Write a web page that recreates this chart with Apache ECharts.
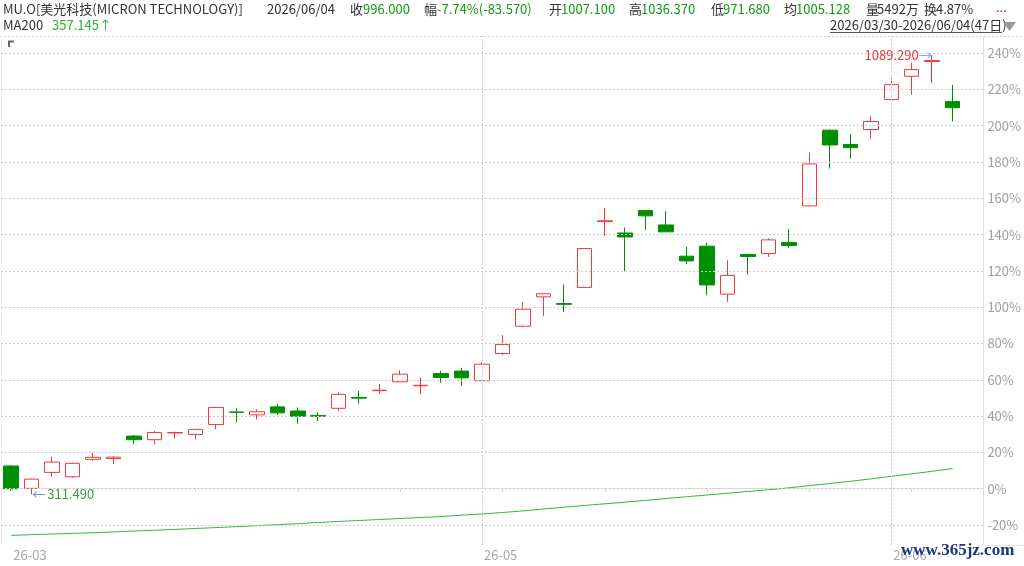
<!DOCTYPE html>
<html>
<head>
<meta charset="utf-8">
<script src="https://cdn.jsdelivr.net/npm/echarts@6/dist/echarts.min.js"></script>
<style>html,body{margin:0;padding:0;background:#fff;}#c{width:1024px;height:566px;}</style>
</head>
<body>
<div id="c"></div>
<script>
// ---- data ----
const dates = [
  '2026/03/30','2026/03/31',
  '2026/04/01','2026/04/02','2026/04/06','2026/04/07','2026/04/08','2026/04/09','2026/04/10',
  '2026/04/13','2026/04/14','2026/04/15','2026/04/16','2026/04/17',
  '2026/04/20','2026/04/21','2026/04/22','2026/04/23','2026/04/24',
  '2026/04/27','2026/04/28','2026/04/29','2026/04/30',
  '2026/05/01','2026/05/04','2026/05/05','2026/05/06','2026/05/07','2026/05/08',
  '2026/05/11','2026/05/12','2026/05/13','2026/05/14','2026/05/15',
  '2026/05/18','2026/05/19','2026/05/20','2026/05/21','2026/05/22',
  '2026/05/26','2026/05/27','2026/05/28','2026/05/29',
  '2026/06/01','2026/06/02','2026/06/03','2026/06/04'
];
const opens = [361.6,322.0,350.3,342.6,373.5,374.8,414.6,408.2,420.1,417.5,
  435.2,457.3,452.2,466.3,459.0,451.2,463.8,483.1,495.0,510.7,
  503.6,525.5,529.7,512.6,560.8,609.1,661.1,649.2,677.8,794.5,
  774.2,814.1,788.4,733.1,750.8,665.9,736.0,737.9,757.2,822.1,
  956.2,930.8,957.4,1010.5,1051.6,1077.9,1007.1];
const closes = [321.4,338.4,368.6,366.4,377.0,377.3,408.2,421.0,421.0,426.5,
  465.4,456.7,457.7,455.7,449.6,449.6,488.5,481.8,495.9,524.2,
  504.6,518.4,517.8,541.9,576.9,639.3,666.6,647.9,746.6,795.8,
  767.2,804.5,776.2,724.8,682.3,699.1,732.5,762.0,752.1,896.4,
  930.1,925.3,971.6,1036.8,1063.5,1079.57,996.0];
const lows = [317.9,311.49,342.6,341.0,370.9,365.1,399.8,399.8,409.8,408.8,
  426.5,439.0,444.2,452.2,436.5,441.3,459.3,471.8,489.5,510.4,
  488.5,509.1,503.6,512.0,557.9,607.4,627.4,634.4,677.2,769.1,
  706.4,779.7,775.9,719.0,664.0,652.1,700.7,731.8,747.9,821.5,
  888.3,906.0,940.7,1009.8,1019.2,1039.7,971.68];
const highs = [363.2,339.1,378.0,367.4,385.0,379.3,416.5,423.6,422.3,427.5,
  466.3,463.8,461.9,471.2,465.4,456.7,492.1,494.3,506.5,531.3,
  518.4,530.3,535.5,545.7,593.3,651.2,667.2,683.0,747.2,818.6,
  783.9,815.1,812.8,749.5,757.2,726.0,736.3,764.9,781.0,916.6,
  957.8,949.1,980.9,1048.7,1075.7,1089.29,1036.37];
const ma200 = [238.8,240.1,241.2,242.3,243.6,244.9,246.5,247.8,249.4,251.0,
  252.6,254.2,256.0,257.8,259.5,261.6,263.4,265.2,266.9,268.7,
  270.3,272.2,274.5,276.7,279.3,282.2,285.4,288.6,291.8,294.7,
  297.6,300.8,304.0,307.3,310.2,313.4,316.6,319.5,323.0,326.9,
  330.7,334.6,338.8,343.3,347.8,352.3,357.145];
const yTicks = [-20,0,20,40,60,80,100,120,140,160,180,200,220,240];
const xLabelDates = ['2026/03/30','2026/05/01','2026/06/01'];
const monthLineDates = ['2026/05/01','2026/06/01'];
const avgPrice = '1005.128', volumeText = '5492万', turnoverText = '4.87%';
const stockName = 'MU.O[美光科技(MICRON TECHNOLOGY)]';

// ---- derived ----
const BASE = closes[0];
const pct = v => (v / BASE - 1) * 100;
const n = dates.length;
const candleData = dates.map((d, i) => [pct(opens[i]), pct(closes[i]), pct(lows[i]), pct(highs[i])]);
const maData = ma200.map(pct);
const cats = dates.concat(['']);
const lastC = closes[n - 1], prevC = closes[n - 2];
const chg = lastC - prevC, chgPct = chg / prevC * 100;
const hiMax = Math.max(...highs), loMin = Math.min(...lows);

const FONT = '"Noto Sans CJK SC", "Noto Sans", sans-serif';
const DARK = '#333333', GREEN = '#139a13', RED = '#e23b3b';
function txt(x, y, s, color, extra) {
  return Object.assign({type: 'text', x: x, y: y, silent: true,
    style: {text: s, fill: color, font: '13px ' + FONT, textVerticalAlign: 'middle'}}, extra || {});
}

const chart = echarts.init(document.getElementById('c'), null, {renderer: 'canvas'});
chart.setOption({
  animation: false,
  backgroundColor: '#ffffff',
  grid: {left: 1, right: 40, top: 36, bottom: 21, containLabel: false},
  xAxis: {
    type: 'category', data: cats, boundaryGap: true,
    axisLine: {show: true, lineStyle: {color: '#e4e4e4'}},
    axisTick: {show: true, alignWithLabel: true, length: 3,
      interval: (i) => i % 5 === 4, lineStyle: {color: '#d0d0d0'}},
    axisLabel: {show: true, color: '#a8a8a8', fontSize: 13, fontFamily: FONT, align: 'left', margin: 4,
      padding: [0, 0, 0, 2],
      interval: (i, v) => xLabelDates.indexOf(v) >= 0,
      formatter: v => v.slice(2, 4) + '-' + v.slice(5, 7)},
    splitLine: {show: false}
  },
  yAxis: {
    type: 'value', position: 'right', min: -31.0, max: 249.4,
    axisLine: {show: true, lineStyle: {color: '#e0e0e0'}},
    axisTick: {show: false},
    splitLine: {show: false},
    axisLabel: {color: '#a0a0a0', fontSize: 13, fontFamily: FONT, margin: 4,
      customValues: yTicks, formatter: v => Math.round(v) + '%'}
  },
  series: [
    {
      name: 'MA200', type: 'line', data: maData, showSymbol: false, z: 2, silent: true,
      lineStyle: {color: '#36b836', width: 1},
      markLine: {
        silent: true, symbol: ['none', 'none'], label: {show: false},
        lineStyle: {color: '#cdcdcd', type: [2, 2], width: 1},
        emphasis: {disabled: true},
        data: yTicks.map(v => ({yAxis: v})).concat(monthLineDates.map(d => ({xAxis: d})))
      }
    },
    {
      name: 'MU.O', type: 'candlestick', data: candleData, barWidth: 15, z: 3,
      itemStyle: {color: '#ffffff', color0: '#008f00', borderColor: '#f23a3a', borderColor0: '#008f00', borderWidth: 1},
      markPoint: {
        symbol: 'circle', symbolSize: 1, itemStyle: {color: 'rgba(0,0,0,0)'}, silent: true,
        data: [
          {type: 'max', valueDim: 'highest',
            label: {show: true, position: 'left', distance: 0,
              formatter: '{v|' + hiMax.toFixed(3) + '}{a|→}',
              rich: {v: {color: RED, fontSize: 13, fontFamily: FONT}, a: {color: '#74b4d4', fontSize: 13, fontFamily: FONT}}}},
          {type: 'min', valueDim: 'lowest',
            label: {show: true, position: 'right', distance: 0,
              formatter: '{a|←}{v|' + loMin.toFixed(3) + '}',
              rich: {v: {color: '#3d9e3d', fontSize: 13, fontFamily: FONT}, a: {color: '#4aa0c8', fontSize: 13, fontFamily: FONT, padding: [0, 2, 0, 0]}}}}
        ]
      }
    }
  ],
  graphic: [
    // frame lines
    {type: 'line', silent: true, shape: {x1: 0, y1: 36.5, x2: 1024, y2: 36.5}, style: {stroke: '#d6d6d6', lineDash: [2, 2], lineWidth: 1}},
    {type: 'line', silent: true, shape: {x1: 984, y1: 545.5, x2: 1024, y2: 545.5}, style: {stroke: '#e4e4e4', lineWidth: 1}},
    {type: 'line', silent: true, shape: {x1: 1.5, y1: 36, x2: 1.5, y2: 545}, style: {stroke: '#ececec', lineWidth: 1}},
    {type: 'polyline', silent: true, shape: {points: [[9, 47], [9, 41.5], [14, 41.5]]}, style: {stroke: '#666', lineWidth: 2, fill: null}},
    // header row 1
    txt(3, 9, stockName, DARK),
    txt(267, 9, dates[n - 1], DARK),
    txt(350, 9, '收', DARK), txt(363, 9, lastC.toFixed(3), GREEN),
    txt(424, 9, '幅', DARK), txt(437, 9, chgPct.toFixed(2) + '%(' + chg.toFixed(3) + ')', GREEN),
    txt(549, 9, '开', DARK), txt(561, 9, opens[n - 1].toFixed(3), GREEN),
    txt(629, 9, '高', DARK), txt(641, 9, highs[n - 1].toFixed(3), GREEN),
    txt(711, 9, '低', DARK), txt(723, 9, lows[n - 1].toFixed(3), GREEN),
    txt(784, 9, '均', DARK), txt(796, 9, avgPrice, GREEN),
    txt(866, 9, '量', DARK), txt(877, 9, volumeText, DARK),
    txt(924, 9, '换', DARK), txt(936, 9, turnoverText, DARK),
    txt(996, 7, '...', '#e00000'),
    // header row 2
    txt(3, 25, 'MA200', DARK),
    txt(52, 25, ma200[n - 1].toFixed(3) + '↑', '#2db02d'),
    txt(830, 25, dates[0] + '-' + dates[n - 1] + '(' + n + '日)', DARK),
    {type: 'line', silent: true, shape: {x1: 830, y1: 32.5, x2: 1002, y2: 32.5}, style: {stroke: '#555', lineWidth: 1}},
    {type: 'polygon', silent: true, shape: {points: [[1003, 22], [1016, 22], [1009.5, 31]]}, style: {fill: '#999'}},
    // watermark
    {type: 'text', x: 901, y: 551, silent: true, z: 100,
      style: {text: 'www.365jz.com', fill: '#1c3878', font: 'bold 17px "Liberation Serif", serif', textVerticalAlign: 'middle'}}
  ]
});
</script>
</body>
</html>
